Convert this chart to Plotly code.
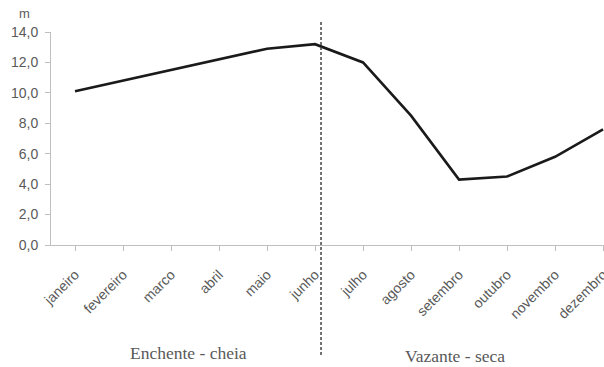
import plotly.graph_objects as go

months = ["janeiro", "fevereiro", "marco", "abril", "maio", "junho",
          "julho", "agosto", "setembro", "outubro", "novembro", "dezembro"]
level_m = [10.1, 10.8, 11.5, 12.2, 12.9, 13.2, 12.0, 8.5, 4.3, 4.5, 5.8, 7.6]
y_ticks = [0, 2, 4, 6, 8, 10, 12, 14]
y_tick_labels = ["0,0", "2,0", "4,0", "6,0", "8,0", "10,0", "12,0", "14,0"]
season_labels = ["Enchente - cheia", "Vazante - seca"]
divider_pos = 5.125  # between junho and julho (category units)

x_range = [-0.5, 11.02]
grey = "#595959"
axis_grey = "#bfbfbf"

fig = go.Figure()
fig.add_trace(go.Scatter(
    x=list(range(len(months))), y=level_m, mode="lines",
    line=dict(color="#1a1a1a", width=2.6), hoverinfo="skip", showlegend=False,
    cliponaxis=False,
))

px_frac = (divider_pos - x_range[0]) / (x_range[1] - x_range[0])
fig.add_shape(type="line", xref="paper", yref="paper",
              x0=px_frac, x1=px_frac, y0=(245 - 22) / 213, y1=(245 - 357) / 213,
              line=dict(color="#444444", width=1.5, dash="3px,2px"))

fig.add_annotation(text=season_labels[0], xref="paper", yref="paper",
                   x=(188 - 51) / 553, y=(245 - 353) / 213, showarrow=False,
                   xanchor="center", yanchor="middle",
                   font=dict(family="Liberation Serif", size=17.5, color=grey))
fig.add_annotation(text=season_labels[1], xref="paper", yref="paper",
                   x=(455 - 51) / 553, y=(245 - 356) / 213, showarrow=False,
                   xanchor="center", yanchor="middle",
                   font=dict(family="Liberation Serif", size=17.5, color=grey))
fig.add_annotation(text="m", xref="paper", yref="paper",
                   x=(24 - 51) / 553, y=(245 - 14) / 213, showarrow=False,
                   xanchor="center", yanchor="middle",
                   font=dict(family="Liberation Sans", size=13, color=grey))

fig.update_layout(
    width=604, height=367,
    margin=dict(l=51, r=0, t=32, b=122, autoexpand=False),
    paper_bgcolor="white", plot_bgcolor="white",
    font=dict(family="Liberation Sans", size=11, color=grey),
    xaxis=dict(
        range=x_range, tickmode="array",
        tickvals=list(range(len(months))), ticktext=months,
        tickangle=-45, showgrid=False, zeroline=False, automargin=False,
        showline=True, linecolor=axis_grey, linewidth=1,
        ticks="outside", tickson="boundaries", ticklen=5, tickcolor=axis_grey,
        tickfont=dict(size=14, color=grey), ticklabeloverflow="allow",
        ticklabelstandoff=10,
    ),
    yaxis=dict(
        range=[0, 14], tickmode="array", tickvals=y_ticks, ticktext=y_tick_labels,
        showgrid=False, zeroline=False, automargin=False,
        showline=True, linecolor=axis_grey, linewidth=1,
        ticks="outside", ticklen=5, tickcolor=axis_grey,
        tickfont=dict(size=14, color=grey), ticklabelstandoff=4,
    ),
)

fig.write_html(
    "out.html",
    config={"displayModeBar": False},
    post_script="document.body.style.margin='0';document.body.style.overflow='hidden';",
)
